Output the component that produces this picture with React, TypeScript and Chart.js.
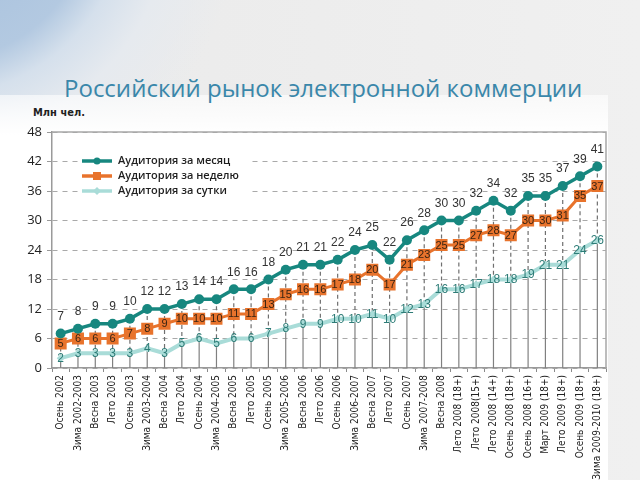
import { useEffect, useRef } from "react";
import { Chart, registerables } from "chart.js";

Chart.register(...registerables);

const titleText = "Российский рынок электронной коммерции";
const yUnitLabel = "Млн чел.";

const categories = [
  "Осень 2002", "Зима 2002-2003", "Весна 2003", "Лето 2003", "Осень 2003",
  "Зима 2003-2004", "Весна 2004", "Лето 2004", "Осень 2004", "Зима 2004-2005",
  "Весна 2005", "Лето 2005", "Осень 2005", "Зима 2005-2006", "Весна 2006",
  "Лето 2006", "Осень 2006", "Зима 2006-2007", "Весна 2007", "Лето 2007",
  "Осень 2007", "Зима 2007-2008", "Весна 2008", "Лето 2008 (18+)", "Лето 2008(15+)",
  "Лето 2008 (14+)", "Осень 2008 (18+)", "Осень 2008 (16+)", "Март 2009 (18+)", "Лето 2009 (18+)",
  "Осень 2009 (18+)", "Зима 2009-2010 (18+)",
];

const seriesNames = ["Аудитория за месяц", "Аудитория за неделю", "Аудитория за сутки"];

const monthValues = [7, 8, 9, 9, 10, 12, 12, 13, 14, 14, 16, 16, 18, 20, 21, 21, 22, 24, 25, 22, 26, 28, 30, 30, 32, 34, 32, 35, 35, 37, 39, 41];
const weekValues = [5, 6, 6, 6, 7, 8, 9, 10, 10, 10, 11, 11, 13, 15, 16, 16, 17, 18, 20, 17, 21, 23, 25, 25, 27, 28, 27, 30, 30, 31, 35, 37];
const dayValues = [2, 3, 3, 3, 3, 4, 3, 5, 6, 5, 6, 6, 7, 8, 9, 9, 10, 10, 11, 10, 12, 13, 16, 16, 17, 18, 18, 19, 21, 21, 24, 26];

const yMin = 0;
const yMax = 48;
const yStep = 6;

const MONTH = "#17877f";
const WEEK = "#e8732c";
const DAY = "#a9dcd8";

const dropLines = {
  id: "dropLines",
  beforeDatasetsDraw(chart: any) {
    const { ctx, chartArea } = chart;
    const m0 = chart.getDatasetMeta(0).data;
    const m2 = chart.getDatasetMeta(2).data;
    ctx.save();
    ctx.lineWidth = 1.2;
    for (let i = 0; i < m0.length; i++) {
      const x = m0[i].x;
      ctx.strokeStyle = "#6f6f6f";
      ctx.setLineDash([4, 3]);
      ctx.beginPath();
      ctx.moveTo(x, m0[i].y);
      ctx.lineTo(x, m2[i].y);
      ctx.stroke();
      ctx.setLineDash([]);
      ctx.strokeStyle = "#808080";
      ctx.beginPath();
      ctx.moveTo(x, m2[i].y);
      ctx.lineTo(x, chartArea.bottom);
      ctx.stroke();
    }
    ctx.strokeStyle = "#a8a8a8";
    ctx.lineWidth = 1.5;
    ctx.beginPath();
    ctx.moveTo(chartArea.left, chartArea.top);
    ctx.lineTo(chartArea.right, chartArea.top);
    ctx.lineTo(chartArea.right, chartArea.bottom);
    ctx.stroke();
    ctx.restore();
  },
};

const valueLabels = {
  id: "valueLabels",
  afterDatasetsDraw(chart: any) {
    const { ctx } = chart;
    ctx.save();
    ctx.textAlign = "center";
    ctx.textBaseline = "middle";
    const m0 = chart.getDatasetMeta(0).data;
    ctx.font = "12px 'Liberation Sans', Arial, sans-serif";
    ctx.fillStyle = "#333333";
    m0.forEach((p: any, i: number) => ctx.fillText(String(monthValues[i]), p.x, p.y - 17));
    const m1 = chart.getDatasetMeta(1).data;
    ctx.font = "11px 'Liberation Sans', Arial, sans-serif";
    ctx.fillStyle = "#3b2412";
    m1.forEach((p: any, i: number) => ctx.fillText(String(weekValues[i]), p.x, p.y + 0.5));
    const m2 = chart.getDatasetMeta(2).data;
    ctx.font = "12px 'Liberation Sans', Arial, sans-serif";
    ctx.fillStyle = "#2e7c77";
    m2.forEach((p: any, i: number) => ctx.fillText(String(dayValues[i]), p.x, p.y + 0.5));
    ctx.restore();
  },
};

const insideLegend = {
  id: "insideLegend",
  afterDatasetsDraw(chart: any) {
    const { ctx } = chart;
    const colors = [MONTH, WEEK, DAY];
    const rows = [161, 176, 191];
    ctx.save();
    ctx.fillStyle = "#ffffff";
    ctx.fillRect(78, 151, 172, 48);
    rows.forEach((y, i) => {
      ctx.strokeStyle = colors[i];
      ctx.lineWidth = 3.5;
      ctx.beginPath();
      ctx.moveTo(82, y);
      ctx.lineTo(112, y);
      ctx.stroke();
      ctx.fillStyle = colors[i];
      if (i === 0) {
        ctx.beginPath();
        ctx.arc(97, y, 3.5, 0, Math.PI * 2);
        ctx.fill();
      } else if (i === 1) {
        ctx.fillRect(93, y - 4, 8, 8);
      } else {
        ctx.beginPath();
        ctx.moveTo(97, y - 4);
        ctx.lineTo(101, y);
        ctx.lineTo(97, y + 4);
        ctx.lineTo(93, y);
        ctx.closePath();
        ctx.fill();
      }
      ctx.fillStyle = "#1e1e1e";
      ctx.font = "600 11px 'Open Sans', sans-serif";
      ctx.textAlign = "left";
      ctx.textBaseline = "middle";
      ctx.fillText(seriesNames[i], 118, y);
    });
    ctx.restore();
  },
};

export default function App() {
  const ref = useRef<HTMLCanvasElement | null>(null);
  useEffect(() => {
    if (!ref.current) return;
    const chart = new Chart(ref.current, {
      type: "line",
      data: {
        labels: categories,
        datasets: [
          {
            label: seriesNames[0],
            data: monthValues,
            borderColor: MONTH,
            backgroundColor: MONTH,
            borderWidth: 3.5,
            pointRadius: 5,
            pointStyle: "circle",
            pointBorderWidth: 0,
            tension: 0,
          },
          {
            label: seriesNames[1],
            data: weekValues,
            borderColor: WEEK,
            backgroundColor: WEEK,
            borderWidth: 3,
            pointRadius: 8.5,
            pointStyle: "rect",
            pointBorderWidth: 0,
            tension: 0,
          },
          {
            label: seriesNames[2],
            data: dayValues,
            borderColor: DAY,
            backgroundColor: DAY,
            borderWidth: 4,
            pointRadius: 4,
            pointStyle: "rectRot",
            pointBorderWidth: 0,
            tension: 0,
          },
        ],
      },
      options: {
        responsive: false,
        animation: false,
        layout: { padding: { top: 132, right: 34, left: 0, bottom: 0 } },
        plugins: {
          legend: { display: false },
          tooltip: { enabled: false },
          title: { display: false },
        },
        scales: {
          x: {
            type: "category",
            offset: true,
            grid: { display: true, drawOnChartArea: false, tickLength: 4, color: "#8a8a8a", offset: true },
            border: { display: true, color: "#9a9a9a", width: 1.5 },
            ticks: {
              autoSkip: false,
              maxRotation: 90,
              minRotation: 90,
              padding: 3,
              color: "#222222",
              font: { family: "'Liberation Sans Narrow', 'DejaVu Sans Condensed', sans-serif", size: 10 },
            },
            afterFit(scale: any) {
              scale.height = 112;
            },
          },
          y: {
            min: yMin,
            max: yMax,
            ticks: {
              stepSize: yStep,
              color: "#222222",
              padding: 5,
              font: { family: "'Open Sans', sans-serif", size: 13 },
            },
            grid: { color: "#a9a9a9", lineWidth: 1, tickLength: 5, tickColor: "#9a9a9a" },
            border: { display: true, color: "#9a9a9a", width: 1.5, dash: [5, 5] },
            afterFit(scale: any) {
              scale.width = 52;
            },
          },
        },
      },
      plugins: [dropLines, valueLabels, insideLegend],
    });
    return () => chart.destroy();
  }, []);

  return (
    <div
      style={{
        position: "fixed",
        left: 0,
        top: 0,
        width: 640,
        height: 480,
        overflow: "hidden",
        background:
          "radial-gradient(circle at -60px -90px, #a3bedc 0px, #b3c9e1 150px, #d5e0ec 185px, #e6eaef 230px, rgba(236,236,236,0) 300px), linear-gradient(to right, #eaeaea, #f0f0f0)",
      }}
    >
      <div
        style={{
          position: "absolute",
          left: 0,
          top: 95,
          width: 608,
          height: 385,
          background: "linear-gradient(to bottom, rgba(255,255,255,0.6) 0px, #ffffff 40px)",
        }}
      />
      <div
        style={{
          position: "absolute",
          left: 64,
          top: 71,
          fontFamily: "'Open Sans', sans-serif",
          fontSize: 24,
          color: "#3a87aa",
          whiteSpace: "nowrap",
          lineHeight: "34px",
        }}
      >
        {titleText}
      </div>
      <div
        style={{
          position: "absolute",
          left: 33,
          top: 106,
          fontFamily: "'DejaVu Sans Condensed', sans-serif",
          fontSize: 11,
          fontWeight: 600,
          color: "#222",
          whiteSpace: "nowrap",
        }}
      >
        {yUnitLabel}
      </div>
      <canvas ref={ref} width={640} height={480} style={{ position: "absolute", left: 0, top: 0 }} />
    </div>
  );
}
